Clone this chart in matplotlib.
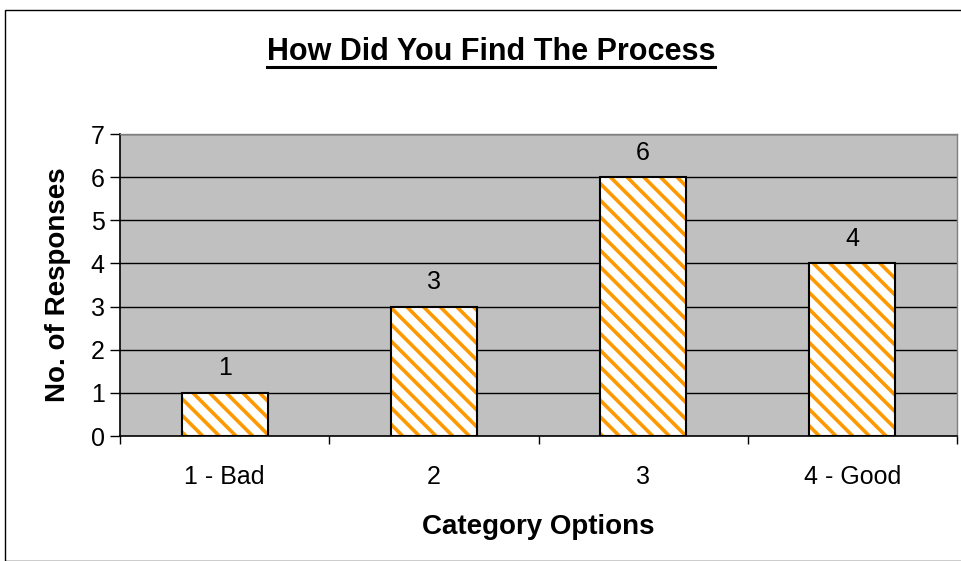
import matplotlib
matplotlib.use("Agg")
import matplotlib.pyplot as plt
from matplotlib.patches import Rectangle
from matplotlib.lines import Line2D

categories = ["1 - Bad", "2", "3", "4 - Good"]
responses = [1, 3, 6, 4]
y_ticks = [0, 1, 2, 3, 4, 5, 6, 7]

plt.rcParams["font.family"] = ["Liberation Sans", "DejaVu Sans"]
plt.rcParams["hatch.linewidth"] = 2.6
plt.rcParams["hatch.color"] = "#FF9900"

W, H = 961, 561
fig = plt.figure(figsize=(W / 100, H / 100), dpi=100)
fig.patch.set_facecolor("white")

# outer chart frame
fig.patches.append(Rectangle((5 / W, 0), 2.0, 1 - 10 / H, transform=fig.transFigure,
                             fill=False, edgecolor="black", linewidth=1.0))

left, right, top, bottom = 120, 957, 134, 436
ax = fig.add_axes([left / W, 1 - bottom / H, (right - left) / W, (bottom - top) / H])
ax.set_facecolor("#C0C0C0")

x = list(range(len(categories)))
ax.set_xlim(-0.5, len(categories) - 0.5)
ax.set_ylim(0, 7)
for t in y_ticks[1:]:
    ax.axhline(t, color="black", linewidth=1.0, zorder=1)

ax.bar(x, responses, width=0.41, facecolor="white", edgecolor="#FF9900",
       hatch="\\\\", linewidth=0, zorder=2)
ax.bar(x, responses, width=0.41, facecolor="none", edgecolor="black",
       linewidth=1.5, zorder=3)

for xi, v in zip(x, responses):
    ax.annotate(str(v), (xi, v), xytext=(0, 9), textcoords="offset points",
                ha="center", va="bottom", fontsize=18)

ax.set_yticks(y_ticks)
ax.set_yticklabels([str(t) for t in y_ticks], fontsize=18)
ax.set_xticks(x)
ax.set_xticklabels(categories, fontsize=18)
ax.set_xticks([i - 0.5 for i in range(len(categories) + 1)], minor=True)
ax.tick_params(axis="x", which="major", length=0, pad=21)
ax.tick_params(axis="x", which="minor", length=6, width=1, color="black")
ax.tick_params(axis="y", length=7, width=1, color="black", pad=4)

for side in ["top", "right"]:
    ax.spines[side].set_color("#808080")
    ax.spines[side].set_linewidth(1.0)
ax.spines["left"].set_color("black")
ax.spines["bottom"].set_color("black")
ax.spines["left"].set_linewidth(1.2)
ax.spines["bottom"].set_linewidth(1.2)

ax.set_xlabel("Category Options", fontsize=20, fontweight="bold", labelpad=18)
ax.set_ylabel("No. of Responses", fontsize=20, fontweight="bold", labelpad=14)

title = fig.text(491 / W, 1 - 60 / H, "How Did You Find The Process", ha="center",
                 va="baseline", fontsize=22, fontweight="bold")

# underline the title
fig.canvas.draw()
bb = title.get_window_extent(fig.canvas.get_renderer())
fig.lines.append(Line2D([bb.x0 / W, bb.x1 / W], [1 - 67 / H, 1 - 67 / H],
                        transform=fig.transFigure, color="black", linewidth=2.2))

fig.savefig("out.png", dpi=100)
